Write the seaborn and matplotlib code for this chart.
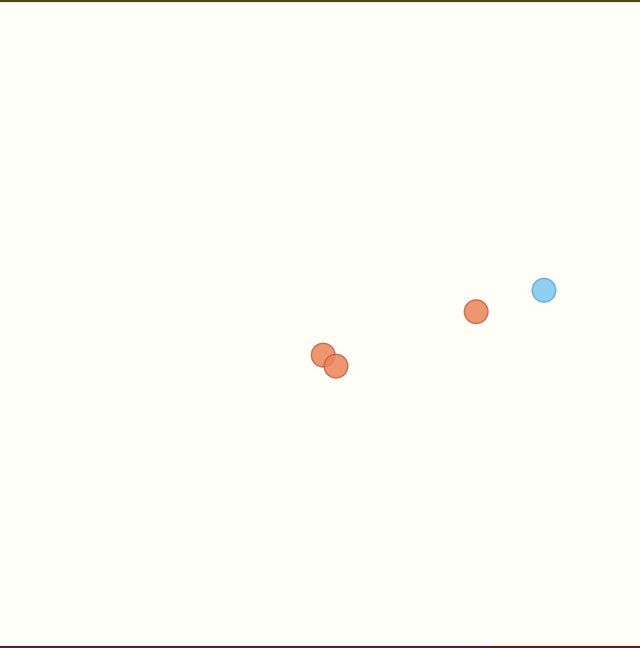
import numpy as np
import pandas as pd
import matplotlib
matplotlib.use("Agg")
import matplotlib.pyplot as plt
import seaborn as sns

# datos
x_vals = [50.5, 52.5, 74.4, 85.0]
y_vals = [45.2, 43.5, 51.9, 55.2]
grupos = ["A", "A", "A", "B"]

df = pd.DataFrame({"x": x_vals, "y": y_vals, "grupo": grupos})

sns.set_style("white")
fig = plt.figure(figsize=(6.4, 6.48), dpi=100)
fig.patch.set_facecolor("#fffff7")
ax = fig.add_axes([0, 0, 1, 1])
ax.set_facecolor("#fffff7")

sns.scatterplot(data=df, x="x", y="y", hue="grupo",
                palette={"A": "#ec8459", "B": "#7cc6f0"},
                s=290, alpha=0.85, linewidth=1, edgecolor="#c0704a",
                legend=False, ax=ax)
# borde de cada punto
ax.collections[0].set_edgecolors(["#c0604a", "#c0604a", "#c0604a", "#5aa8d0"])

ax.set_xlim(0, 100)
ax.set_ylim(0, 100)
ax.set_xlabel("")
ax.set_ylabel("")
ax.set_xticks([])
ax.set_yticks([])
for sp in ax.spines.values():
    sp.set_visible(False)

# lineas de borde arriba y abajo
ax.axhline(100, color="#4a4a10", linewidth=3)
ax.axhline(0, xmin=0, xmax=0.77, color="#5a1850", linewidth=3)
ax.axhline(0, xmin=0.77, xmax=1, color="#5a1e1e", linewidth=3)

fig.savefig("out.png", dpi=100, facecolor=fig.get_facecolor())
